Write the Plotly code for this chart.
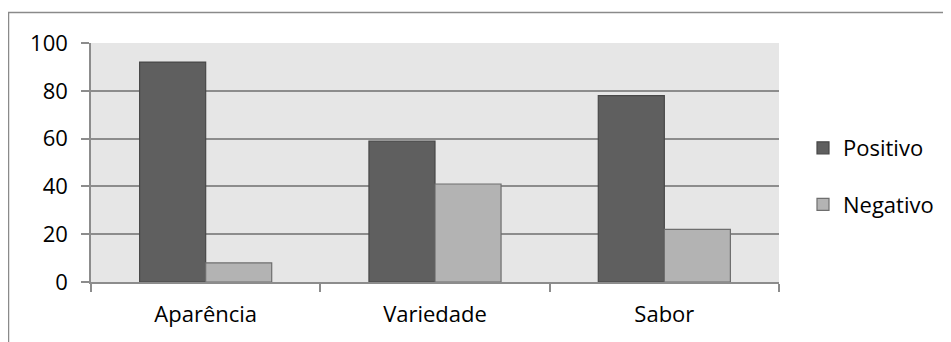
import plotly.graph_objects as go

categories = ["Aparência", "Variedade", "Sabor"]
positivo = [92, 59, 78]
negativo = [8, 41, 22]
y_ticks = [0, 20, 40, 60, 80, 100]

FONT = "Open Sans"
fig = go.Figure()
fig.add_trace(go.Bar(x=categories, y=positivo, name="Positivo", legendgroup="p",
                     marker=dict(color="#5f5f5f", line=dict(color="#484848", width=1.2))))
fig.add_trace(go.Bar(x=categories, y=negativo, name="Negativo", legendgroup="n",
                     marker=dict(color="#b3b3b3", line=dict(color="#6e6e6e", width=1.2))))

OFF = 8  # page body margin
L, R, T, B = 91 - OFF, 779 - OFF, 43 - OFF, 282 - OFF
W, H = 951 - OFF, 342 - OFF
pw, ph = R - L, B - T

def px(x):
    return (x - OFF - L) / pw

def py(y):
    return (B - (y - OFF)) / ph

fig.update_layout(
    width=W, height=H,
    margin=dict(l=L, r=W - R, t=T, b=H - B, pad=0),
    paper_bgcolor="white", plot_bgcolor="#e6e6e6",
    barmode="group", bargap=0.424, bargroupgap=0,
    font=dict(family=FONT, size=22, color="#000000"),
    legend=dict(x=px(803), y=py(176.5), xanchor="left", yanchor="middle",
                traceorder="grouped", tracegroupgap=25,
                font=dict(family=FONT, size=22, color="#000000"),
                bgcolor="rgba(0,0,0,0)"),
    shapes=[dict(type="rect", xref="paper", yref="paper",
                 x0=px(8.5), x1=px(950), y0=py(370), y1=py(12.5),
                 line=dict(color="#8a8a8a", width=1.5), fillcolor="rgba(0,0,0,0)",
                 layer="below")],
)
fig.update_yaxes(range=[0, 100], tickvals=y_ticks, ticks="outside", ticklen=8,
                 tickcolor="#8c8c8c", tickwidth=1.5,
                 showgrid=True, gridcolor="#8c8c8c", gridwidth=1.5,
                 showline=True, linecolor="#8c8c8c", linewidth=1.5,
                 zeroline=False, ticklabelstandoff=9,
                 tickfont=dict(family=FONT, size=22, color="#000000"))
fig.update_xaxes(ticks="outside", tickson="boundaries", ticklen=8,
                 tickcolor="#8c8c8c", tickwidth=1.5,
                 showline=True, linecolor="#8c8c8c", linewidth=1.5,
                 showgrid=False, ticklabelstandoff=12,
                 tickfont=dict(family=FONT, size=22, color="#000000"))

fig.write_html("out.html")
